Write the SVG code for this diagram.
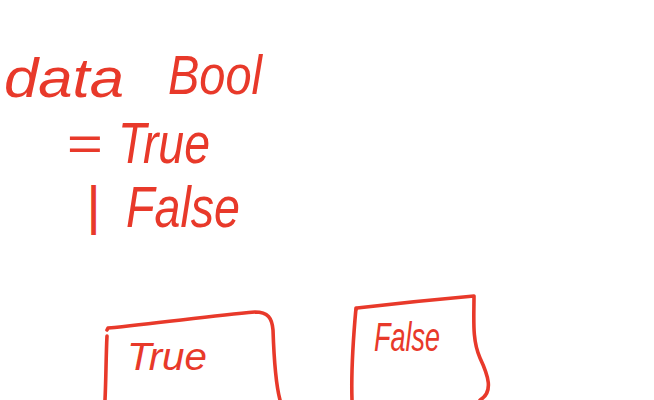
<svg xmlns="http://www.w3.org/2000/svg" width="654" height="400" viewBox="0 0 654 400">
<style>
.t{font-family:"Liberation Sans","DejaVu Sans",sans-serif;fill:#e8392a;font-style:italic}
.s{fill:none;stroke:#e8392a;stroke-width:3.6;stroke-linecap:round;stroke-linejoin:round}
</style>
<rect width="654" height="400" fill="#fff"/>
<g id="definition">
<text class="t" x="4" y="97" font-size="56" textLength="120" lengthAdjust="spacingAndGlyphs">data</text>
<text class="t" x="168" y="94" font-size="56" textLength="94" lengthAdjust="spacingAndGlyphs">Bool</text>
<text class="t" x="66" y="160" font-size="48" textLength="36" lengthAdjust="spacingAndGlyphs">=</text>
<text class="t" x="118" y="163" font-size="58" textLength="92" lengthAdjust="spacingAndGlyphs">True</text>
<text class="t" x="88" y="224" font-size="54" font-weight="bold" textLength="10" lengthAdjust="spacingAndGlyphs">|</text>
<text class="t" x="126" y="227" font-size="58" textLength="114" lengthAdjust="spacingAndGlyphs">False</text>
</g>
<g id="connectors"></g>
<g id="true-box">
<path class="s" d="M107,336 C106,355 106,380 105,400 M107,330 L108,328 C160,323 210,316 255,312 C268,312 272,318 273,330 C274,360 276,385 280,400"/>
<text class="t" x="127" y="370" font-size="38" textLength="80" lengthAdjust="spacingAndGlyphs">True</text>
</g>
<g id="false-box">
<path class="s" d="M356,308 C354,330 351,370 352,400 M356,310 L357,308 C400,303 440,299 474,296 C474,320 472,340 480,358 C488,375 494,392 480,400"/>
<text class="t" x="374" y="351" font-size="40" textLength="66" lengthAdjust="spacingAndGlyphs">False</text>
</g>
</svg>
